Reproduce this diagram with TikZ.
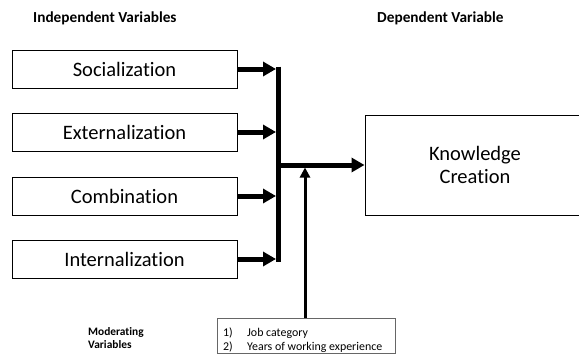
\documentclass[tikz,border=0pt]{standalone}
\usepackage{fontspec}
\setmainfont{Carlito}[Ligatures=NoCommon]
\usetikzlibrary{arrows.meta}
\begin{document}
\begin{tikzpicture}[x=1pt,y=-1pt,
  ivbox/.style={draw,line width=1pt,minimum width=225pt,minimum height=38pt,inner sep=0pt,font=\fontsize{20.5}{24}\selectfont},
  head/.style={font=\bfseries\fontsize{15.3}{17}\selectfont,inner sep=0pt},
  modtext/.style={font=\fontsize{11.9}{14}\selectfont,inner sep=0pt},
  thickarrow/.style={line width=5pt,-{Triangle[length=13pt,width=14pt]}},
  bar/.style={line width=5pt}]
\useasboundingbox (0,0) rectangle (579,356);
\node[head,anchor=base west] (ivh) at (33,23) {Independent Variables};
\node[head,anchor=base west] (dvh) at (377,23) {Dependent Variable};
\node[ivbox] (s) at (124.5,69) {Socialization};
\node[ivbox] (e) at (124.5,132) {Externalization};
\node[ivbox] (c) at (124.5,196) {Combination};
\node[ivbox] (i) at (124.5,259) {Internalization};
\node[draw,line width=1pt,minimum width=220pt,minimum height=100pt,inner sep=0pt,align=center,font=\fontsize{20.5}{23.5}\selectfont] (kc) at (475,165) {Knowledge\\Creation};
\coordinate (bt) at (278,66.5);
\coordinate (bb) at (278,261.5);
\coordinate (bm) at (278,165);
\draw[bar] (bt) -- (bb);
\foreach \n/\y in {s/69,e/132,c/196,i/259}
  \draw[thickarrow] (\n.east) -- (276,\y);
\draw[thickarrow] (bm) -- (kc.west);
\node[draw=black!60,line width=0.7pt,minimum width=178pt,minimum height=35pt,inner sep=0pt] (mod) at (306,335.5) {};
\node[modtext,anchor=base west] (m1n) at (223,336) {1)};
\node[modtext,anchor=base west] (m1t) at (247,336) {Job category};
\node[modtext,anchor=base west] (m2n) at (223,350) {2)};
\node[modtext,anchor=base west] (m2t) at (247,350) {Years of working experience};
\coordinate (mt) at (305,167.5);
\draw[line width=3pt,-{Triangle[length=10pt,width=10pt]}] (mod.north -| mt) -- (mt);
\node[font=\bfseries\fontsize{11.4}{13}\selectfont,inner sep=0pt,anchor=base west] (mv1) at (88,335) {Moderating};
\node[font=\bfseries\fontsize{11.4}{13}\selectfont,inner sep=0pt,anchor=base west] (mv2) at (88,348.5) {Variables};
\end{tikzpicture}
\end{document}
